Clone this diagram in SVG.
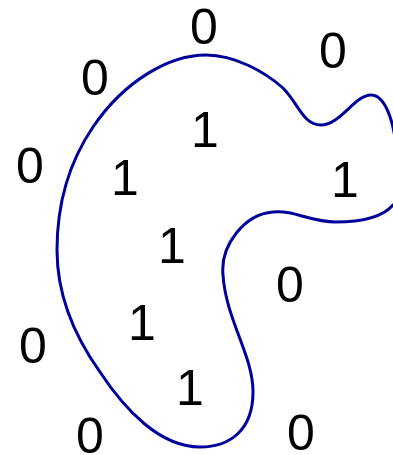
<svg xmlns="http://www.w3.org/2000/svg" width="393" height="455" viewBox="0 0 393 455">
<style>
.t{font-family:"Liberation Sans",Arial,sans-serif;font-size:50px;fill:#000;text-anchor:middle}
.c{fill:none;stroke:#00009a;stroke-width:3}
</style>
<rect width="393" height="455" fill="#fff"/>
<g id="connectors">
<path id="region" class="c" d="M206,55 C235,55 265,72 283,88 C298,103 303,125 321,125 C340,125 355,95 371,95 C385,95 393,120 396,145 C399,170 402,200 393,205 C380,220 355,222 336,222 C310,222 295,210 273,212 C245,214 220,245 223,275 C226,320 253,355 253,392 C253,430 230,447 200,447 C160,447 125,410 100,372 C70,330 57,290 57,250 C57,200 72,158 93,127 C125,80 170,55 206,55 Z"/>
</g>
<g id="n1"><text class="t" x="204" y="44">0</text></g>
<g id="n2"><text class="t" x="333" y="68">0</text></g>
<g id="n3"><text class="t" x="95" y="95">0</text></g>
<g id="n4"><text class="t" x="30" y="183">0</text></g>
<g id="n5"><text class="t" x="205" y="147">1</text></g>
<g id="n6"><text class="t" x="125" y="195">1</text></g>
<g id="n7"><text class="t" x="345" y="197">1</text></g>
<g id="n8"><text class="t" x="172" y="263">1</text></g>
<g id="n9"><text class="t" x="290" y="302">0</text></g>
<g id="n10"><text class="t" x="142" y="340">1</text></g>
<g id="n11"><text class="t" x="33" y="363">0</text></g>
<g id="n12"><text class="t" x="190" y="405">1</text></g>
<g id="n13"><text class="t" x="90" y="453">0</text></g>
<g id="n14"><text class="t" x="301" y="450">0</text></g>
</svg>
